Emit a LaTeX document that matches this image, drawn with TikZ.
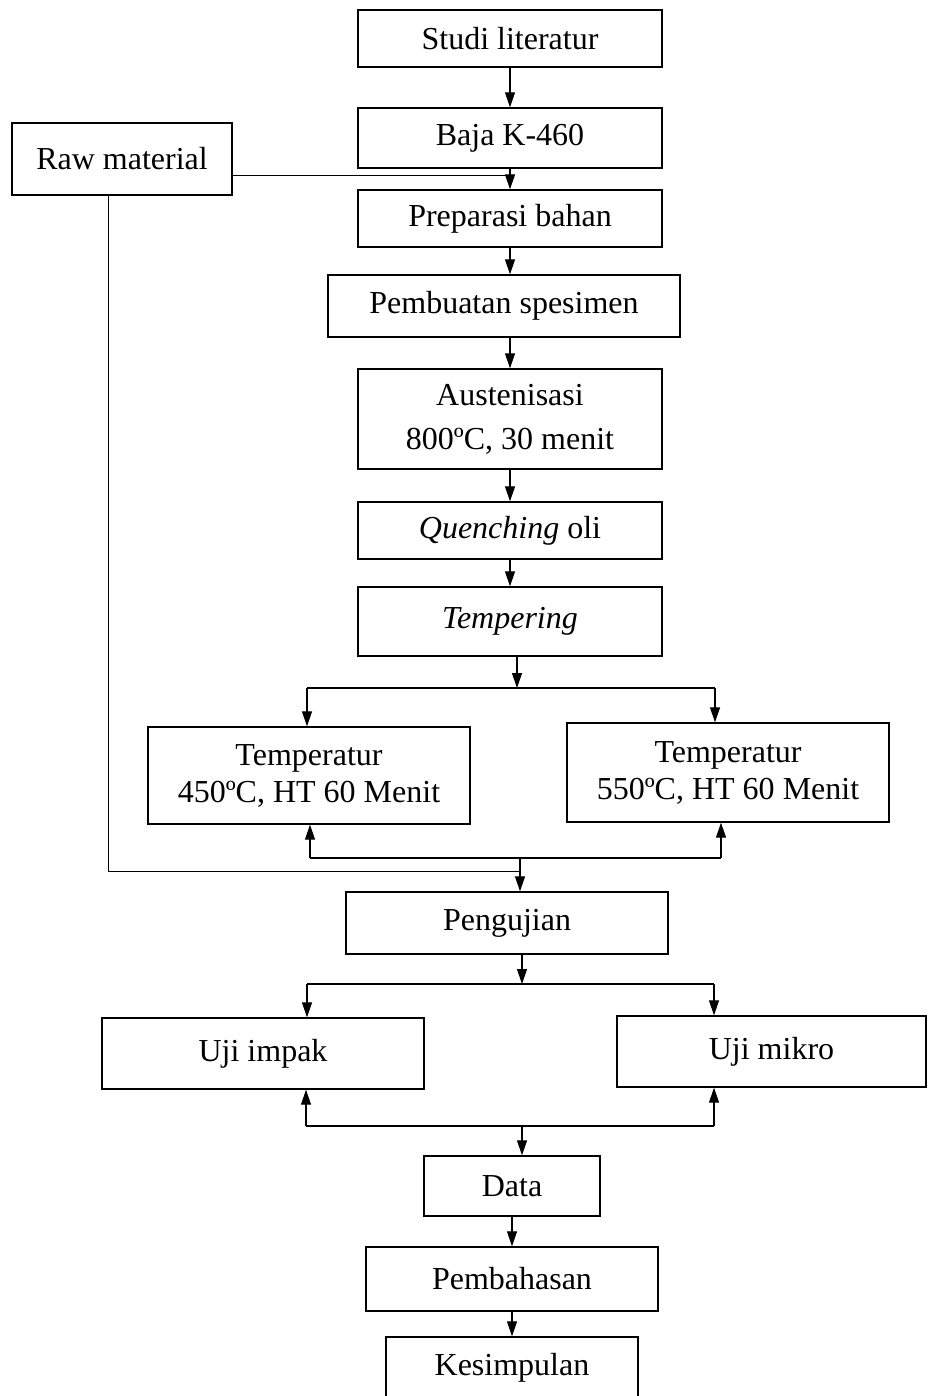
\documentclass[tikz,border=0pt]{standalone}
\usepackage{fontspec}
\setmainfont{Liberation Serif}
\usetikzlibrary{arrows.meta}
\begin{document}
\begin{tikzpicture}[x=1pt,y=-1pt,
  box/.style={draw, line width=1.4pt, inner sep=0pt, align=center, font=\fontsize{32}{42}\selectfont},
  arr/.style={line width=1.2pt, -{Triangle[length=15pt,width=10pt]}},
  ln/.style={line width=1.2pt},
  thin/.style={line width=0.9pt}]
\useasboundingbox (0,0) rectangle (927,1396);
% boxes
\node[box, minimum width=304pt, minimum height=57pt] (studi) at (510,38.5) {Studi literatur};
\node[box, minimum width=304pt, minimum height=60pt] (baja) at (510,138) {Baja K-460};
\node[box, minimum width=220pt, minimum height=72pt] (raw) at (122,159) {Raw material};
\node[box, minimum width=304pt, minimum height=57pt] (prep) at (510,218.5) {Preparasi bahan};
\node[box, minimum width=352pt, minimum height=62pt] (pemb) at (504,306) {Pembuatan spesimen};
\node[box, minimum width=304pt, minimum height=100pt, font=\fontsize{32}{44}\selectfont] (aust) at (510,419) {Austenisasi\\800ºC, 30 menit};
\node[box, minimum width=304pt, minimum height=57pt] (quen) at (510,530.5) {\textit{Quenching} oli};
\node[box, minimum width=304pt, minimum height=69pt] (temp) at (510,621.5) {\textit{Tempering}};
\node[box, minimum width=322pt, minimum height=97pt, font=\fontsize{32}{37}\selectfont] (t450) at (309,775.5) {Temperatur\\450ºC, HT 60 Menit};
\node[box, minimum width=322pt, minimum height=99pt, font=\fontsize{32}{37}\selectfont] (t550) at (728,772.5) {Temperatur\\550ºC, HT 60 Menit};
\node[box, minimum width=322pt, minimum height=62pt] (peng) at (507,923) {Pengujian};
\node[box, minimum width=322pt, minimum height=71pt] (impak) at (263,1053.5) {Uji impak};
\node[box, minimum width=309pt, minimum height=71pt] (mikro) at (771.5,1051.5) {Uji mikro};
\node[box, minimum width=176pt, minimum height=60pt] (data) at (512,1186) {Data};
\node[box, minimum width=292pt, minimum height=64pt] (bahas) at (512,1279) {Pembahasan};
\node[box, minimum width=252pt, minimum height=61pt] (kes) at (512,1367.5) {Kesimpulan};
% junction coordinates
\coordinate (rj) at (510,175);
\coordinate (rl) at (108,871);
\coordinate (s1) at (517,688);
\coordinate (s1L) at (307,688);
\coordinate (s1R) at (715,688);
\coordinate (m1) at (520,858);
\coordinate (m1L) at (310,858);
\coordinate (m1R) at (721,858);
\coordinate (s2) at (522,984);
\coordinate (s2L) at (307,984);
\coordinate (s2R) at (714,984);
\coordinate (m2) at (522,1126);
\coordinate (m2L) at (306,1126);
\coordinate (m2R) at (714,1126);
% main chain
\draw[arr] (studi.south) -- (baja.north);
\draw[arr] (baja.south) -- (prep.north);
\draw[thin] (raw.east |- rj) -- (rj);
\draw[arr] (prep.south) -- (prep.south |- pemb.north);
\draw[arr] (pemb.south -| aust.north) -- (aust.north);
\draw[arr] (aust.south) -- (quen.north);
\draw[arr] (quen.south) -- (temp.north);
\draw[arr] (temp.south -| s1) -- (s1);
\draw[ln] (s1L) -- (s1R);
\draw[arr] (s1L) -- (s1L |- t450.north);
\draw[arr] (s1R) -- (s1R |- t550.north);
\draw[arr] (m1L) -- (m1L |- t450.south);
\draw[arr] (m1R) -- (m1R |- t550.south);
\draw[ln] (m1L) -- (m1R);
\draw[thin] (rl |- raw.south) -- (rl) -- (rl -| m1);
\draw[arr] (m1) -- (m1 |- peng.north);
\draw[arr] (peng.south -| s2) -- (s2);
\draw[ln] (s2L) -- (s2R);
\draw[arr] (s2L) -- (s2L |- impak.north);
\draw[arr] (s2R) -- (s2R |- mikro.north);
\draw[arr] (m2L) -- (m2L |- impak.south);
\draw[arr] (m2R) -- (m2R |- mikro.south);
\draw[ln] (m2L) -- (m2R);
\draw[arr] (m2) -- (m2 |- data.north);
\draw[arr] (data.south) -- (bahas.north);
\draw[arr] (bahas.south) -- (kes.north);
\end{tikzpicture}
\end{document}
